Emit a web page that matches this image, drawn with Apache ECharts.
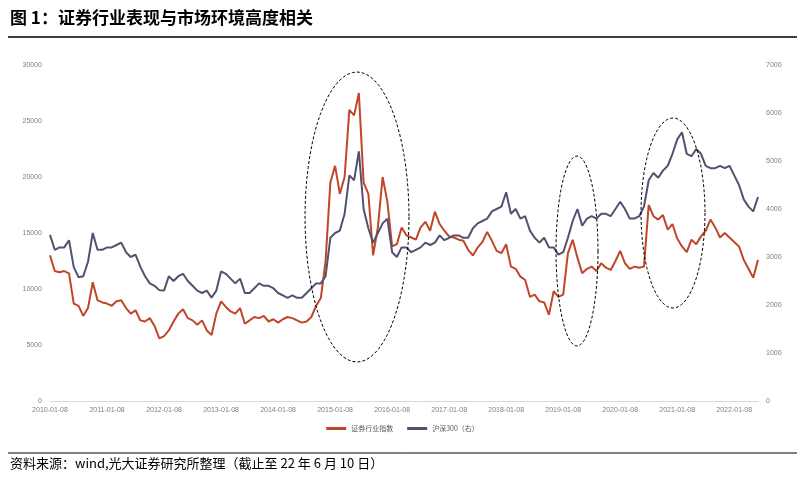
<!DOCTYPE html>
<html>
<head>
<meta charset="utf-8">
<script src="https://cdn.jsdelivr.net/npm/echarts@6/dist/echarts.min.js"></script>
<style>body{margin:0;background:#fff}#chart{width:805px;height:481px}</style>
</head>
<body>
<div id="chart"></div>
<script>
// 月度数据 2010-01 ~ 2022-06
var years = [2010,2011,2012,2013,2014,2015,2016,2017,2018,2019,2020,2021,2022];
var brokerIndex = [
    13000,11600,11500,11600,11400,8700,8500,7600,8300,10600,9000,8800,
    8700,8500,8900,9000,8300,7800,8100,7200,7100,7400,6700,5600,
    5800,6300,7100,7800,8200,7400,7200,6800,7200,6300,5900,7800,
    8900,8400,8000,7800,8300,6900,7200,7500,7400,7600,7100,7300,
    7000,7300,7500,7400,7200,7000,7100,7500,8500,9200,12500,19500,
    21000,18500,20000,26000,25500,27500,19500,18500,13000,15500,20000,17800,
    13800,14000,15500,14800,14600,14400,15500,16000,15200,16900,15800,15200,
    14700,14600,14400,14300,13500,13000,13700,14200,15100,14300,13400,13200,
    14000,12000,11800,11100,10800,9300,9500,8900,8800,7700,9800,9300,
    9500,13200,14400,12800,11400,11800,12000,11600,12300,11900,11700,12500,
    13400,12300,11800,12000,11900,12000,17500,16500,16200,16600,15300,15800,
    14500,13800,13300,14400,14000,14700,15200,16200,15500,14600,15000,14600,
    14200,13800,12600,11800,11000,12600
];
var hs300 = [
    3460,3150,3200,3200,3350,2790,2580,2600,2900,3500,3150,3150,
    3200,3200,3250,3300,3100,3000,3050,2800,2600,2450,2400,2310,
    2300,2600,2500,2600,2650,2500,2400,2300,2250,2300,2150,2300,
    2700,2650,2550,2450,2550,2250,2250,2350,2450,2400,2400,2350,
    2250,2200,2150,2200,2150,2150,2250,2350,2450,2450,2600,3400,
    3500,3550,3900,4700,4600,5200,4000,3600,3300,3500,3700,3800,
    3100,3000,3200,3200,3100,3150,3200,3300,3250,3300,3450,3350,
    3400,3450,3450,3400,3400,3600,3700,3750,3800,3950,4000,4050,
    4350,3900,4000,3800,3850,3550,3400,3300,3400,3200,3200,3050,
    3100,3400,3750,4000,3650,3800,3850,3800,3900,3900,3850,4000,
    4150,4000,3800,3800,3850,4050,4600,4750,4650,4800,4900,5150,
    5450,5600,5150,5100,5250,5150,4900,4850,4850,4900,4850,4900,
    4700,4500,4200,4050,3950,4250
];
var dates = [];
years.forEach(function(y){
    for (var m = 1; m <= 12; m++) {
        if (dates.length < brokerIndex.length) dates.push(y + '-' + (m < 10 ? '0' + m : m) + '-08');
    }
});

// 虚线椭圆
function ellipse(cx, cy, rx, ry){
    var pts = [];
    for (var i = 0; i < 72; i++) {
        var a = i / 72 * Math.PI * 2;
        pts.push([cx + rx * Math.cos(a), cy + ry * Math.sin(a)]);
    }
    return {type:'polygon', shape:{points:pts}, style:{fill:'none', stroke:'#000', lineWidth:1, lineDash:[3,2]}, z:100};
}

var axisText = {color:'#7f7f7f', fontSize:7, fontFamily:'Liberation Sans'};
var plain = function(v){ return String(v); };
var myChart = echarts.init(document.getElementById('chart'));
var option = {
    animation:false,
    grid:{left:50, right:47, top:65, bottom:80},
    legend:{
        bottom:44, left:'center', itemWidth:20, itemHeight:3, icon:'rect', itemGap:14,
        textStyle:{fontSize:7, color:'#595959', fontFamily:'Noto Sans CJK SC'},
        data:['证券行业指数','沪深300（右）']
    },
    xAxis:{
        type:'category', boundaryGap:false, data:dates,
        axisLine:{lineStyle:{color:'#d9d9d9'}},
        axisTick:{show:false},
        axisLabel:Object.assign({interval:function(i, v){return v.slice(5,7) === '01';}, margin:6}, axisText)
    },
    yAxis:[{
        type:'value', min:0, max:30000, interval:5000,
        splitLine:{show:false}, axisLabel:Object.assign({formatter:plain}, axisText)
    },{
        type:'value', min:0, max:7000, interval:1000,
        splitLine:{show:false}, axisLabel:Object.assign({formatter:plain}, axisText)
    }],
    series:[{
        name:'证券行业指数', type:'line', data:brokerIndex, symbol:'none',
        lineStyle:{color:'#c0462a', width:2}, itemStyle:{color:'#c0462a'}
    },{
        name:'沪深300（右）', type:'line', yAxisIndex:1, data:hs300, symbol:'none',
        lineStyle:{color:'#54506f', width:2}, itemStyle:{color:'#54506f'}
    }],
    graphic:[
        {type:'text', left:10, top:9, style:{text:'图 1：证券行业表现与市场环境高度相关', font:'bold 17px "Noto Sans CJK SC"', fill:'#000'}},
        {type:'line', shape:{x1:8, y1:37, x2:797, y2:37}, style:{stroke:'#000', lineWidth:1.5}},
        {type:'line', shape:{x1:8, y1:453, x2:797, y2:453}, style:{stroke:'#000', lineWidth:1}},
        {type:'text', left:10, top:457, style:{text:'资料来源：wind,光大证券研究所整理（截止至 22 年 6 月 10 日）', font:'13px "Noto Sans CJK SC"', fill:'#000'}},
        ellipse(357, 217, 52, 145),
        ellipse(577, 251, 21, 95),
        ellipse(673, 213, 32, 95)
    ]
};
myChart.setOption(option);
</script>
</body>
</html>
